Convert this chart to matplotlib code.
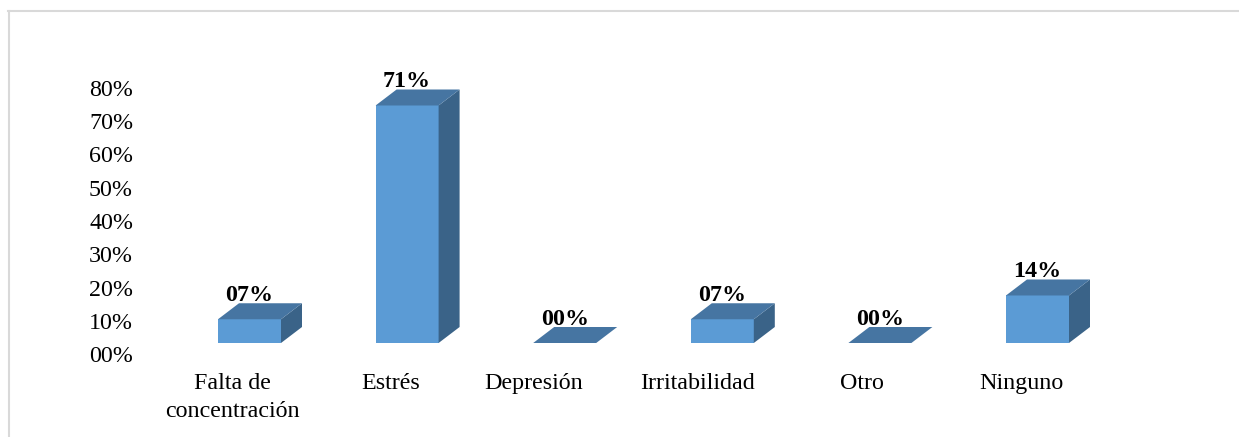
import matplotlib
matplotlib.use("Agg")
import matplotlib.pyplot as plt
from matplotlib.patches import Polygon
from matplotlib.lines import Line2D

categories = ["Falta de\nconcentración", "Estrés", "Depresión", "Irritabilidad", "Otro", "Ninguno"]
values = [7.14, 71.43, 0.0, 7.14, 0.0, 14.29]
value_labels = ["07%", "71%", "00%", "07%", "00%", "14%"]
ytick_vals = [0, 10, 20, 30, 40, 50, 60, 70, 80]
ytick_labels = ["00%", "10%", "20%", "30%", "40%", "50%", "60%", "70%", "80%"]

W, H = 1239, 437
fig = plt.figure(figsize=(W / 100, H / 100), dpi=100)
fig.patch.set_facecolor("white")

# axes placement (pixels)
ax_left, ax_right = 140, 1200
ax_bottom_px, ax_top_px = 354, 88  # y pixel of 0% and 80%
ax = fig.add_axes([ax_left / W, (H - ax_bottom_px) / H,
                   (ax_right - ax_left) / W, (ax_bottom_px - ax_top_px) / H])
px_per_cat = 157.6
x0_px = 249.5
ax.set_xlim((ax_left - x0_px) / px_per_cat, (ax_right - x0_px) / px_per_cat)
ax.set_ylim(0, 80)
px_per_pct = (ax_bottom_px - ax_top_px) / 80.0

front_c = "#5B9BD5"
top_c = "#4675A2"
side_c = "#3A6388"

bw = 63 / px_per_cat
dx = 21 / px_per_cat
dy = 16 / px_per_pct
base = 11 / px_per_pct

FS = 17.3
# horizontal shift of category labels (pixels), as laid out in the original
label_shift_px = [-17, -16, -31, -25, -18, -16]

for i, (v, lab) in enumerate(zip(values, value_labels)):
    l = i - bw / 2
    r = i + bw / 2
    b = base
    t = base + v
    if v > 0:
        ax.add_patch(Polygon([(l, b), (r, b), (r, t), (l, t)], closed=True,
                             facecolor=front_c, edgecolor="none", zorder=2))
        ax.add_patch(Polygon([(r, b), (r + dx, b + dy), (r + dx, t + dy), (r, t)], closed=True,
                             facecolor=side_c, edgecolor="none", zorder=2))
    ax.add_patch(Polygon([(l, t), (r, t), (r + dx, t + dy), (l + dx, t + dy)], closed=True,
                         facecolor=top_c, edgecolor="none", zorder=3))
    ax.text(i, t + dy + 2.0 / px_per_pct, lab, ha="center", va="baseline",
            fontsize=FS, fontweight="bold", family="Liberation Serif",
            color="black", clip_on=False, zorder=4)

ax.set_yticks(ytick_vals)
ax.set_yticklabels(ytick_labels, fontsize=FS, family="Liberation Serif")
ax.set_xticks([i + s / px_per_cat for i, s in enumerate(label_shift_px)])
ax.set_xticklabels(categories, fontsize=FS, family="Liberation Serif", linespacing=1.4)
ax.tick_params(axis="y", length=0, pad=5)
ax.tick_params(axis="x", length=0, pad=14)
for s in ax.spines.values():
    s.set_visible(False)
ax.set_facecolor("none")

# chart frame (light gray)
border_c = "#D9D9D9"
fig.add_artist(Line2D([8 / W, 1238 / W], [(H - 10.5) / H, (H - 10.5) / H],
                      transform=fig.transFigure, color=border_c, linewidth=1.5))
fig.add_artist(Line2D([8.5 / W, 8.5 / W], [(H - 10.5) / H, 0],
                      transform=fig.transFigure, color=border_c, linewidth=1.5))

fig.savefig("out.png", dpi=100, facecolor="white")
